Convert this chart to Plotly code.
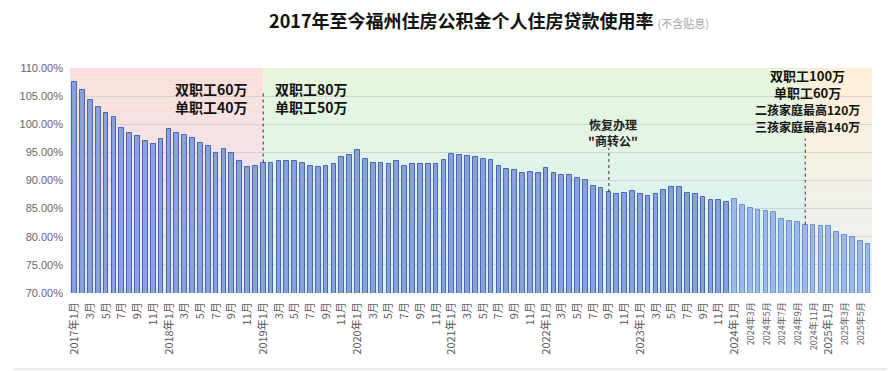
import plotly.graph_objects as go

# ---------------- data ----------------
months = []
for yr in range(2017, 2026):
    for mo in range(1, 13):
        if yr == 2025 and mo > 6:
            break
        months.append(f"{yr}年{mo}月")

rate_2017 = [107.5, 106.1, 104.3, 103.0, 102.0, 101.3, 99.3, 98.4, 97.85, 97.0, 96.45, 97.35]
rate_2018 = [99.15, 98.4, 98.05, 97.5, 96.75, 96.05, 94.85, 95.65, 94.95, 93.55, 92.35, 92.65]
rate_2019 = [93.2, 93.1, 93.4, 93.55, 93.55, 93.2, 92.5, 92.35, 92.5, 92.85, 94.1, 94.6]
rate_2020 = [95.5, 93.9, 93.2, 93.2, 93.0, 93.4, 92.65, 92.85, 92.85, 92.85, 93.0, 93.7]
rate_2021 = [94.8, 94.6, 94.3, 94.25, 93.85, 93.7, 92.5, 92.05, 91.85, 91.35, 91.5, 91.35]
rate_2022 = [92.3, 91.35, 91.0, 91.0, 90.5, 90.15, 89.05, 88.7, 87.95, 87.6, 87.8, 88.15]
rate_2023 = [87.6, 87.25, 87.6, 88.35, 88.85, 88.85, 87.8, 87.6, 87.05, 86.55, 86.55, 86.2]
rate_2024 = [86.75, 85.7, 85.2, 84.8, 84.6, 84.4, 83.2, 82.85, 82.65, 82.15, 82.15, 81.95]
rate_2025 = [81.95, 80.9, 80.35, 79.95, 79.25, 78.7]

rates = rate_2017 + rate_2018 + rate_2019 + rate_2020 + rate_2021 + rate_2022 + rate_2023 + rate_2024 + rate_2025

# tick labels: every other month
tick_idx = list(range(0, len(months), 2))
tick_labels = []
for i in tick_idx:
    yr, rest = months[i].split("年")
    if rest == "1月":
        tick_labels.append(months[i])
    elif int(yr) >= 2024:
        tick_labels.append(f'<span style="font-size:9px">{months[i]}</span>')
    else:
        tick_labels.append(rest)

policy_texts = {
    "left": "双职工60万<br>单职工40万",
    "mid": "双职工80万<br>单职工50万",
    "szg": "恢复办理<br>\"商转公\"",
    "new": "双职工100万<br>单职工60万<br><span style='font-size:12px'>二孩家庭最高120万</span><br><span style='font-size:12px'>三孩家庭最高140万</span>",
}

# ---------------- figure ----------------
x = list(range(len(months)))
i_2019 = months.index("2019年1月")
i_szg = months.index("2022年9月")
i_new = months.index("2024年10月")
x_lo, x_hi = -0.6, len(months) - 0.5
y_lo, y_hi = 70, 110

bar_fill = ["#9cb9ea" if int(m.split("年")[0]) >= 2024 else "#8aa0da" for m in months]
bar_line = ["#6d90d2" if int(m.split("年")[0]) >= 2024 else "#4a67b2" for m in months]

fig = go.Figure()
fig.add_trace(go.Bar(
    x=x, y=rates, width=0.6,
    marker=dict(color=bar_fill, line=dict(color=bar_line, width=1)),
    hovertemplate="%{customdata}: %{y:.2f}%<extra></extra>",
    customdata=months,
))

def hex2rgb(h):
    h = h.lstrip("#")
    return tuple(int(h[k:k + 2], 16) for k in (0, 2, 4))

def mix(c1, c2, t):
    a, b = hex2rgb(c1), hex2rgb(c2)
    return "rgb(%d,%d,%d)" % tuple(round(a[k] + (b[k] - a[k]) * t) for k in range(3))

regions = [
    (x_lo, i_2019, "#fcdfda", "#e0e8fb"),
    (i_2019, i_new, "#e6f6da", "#d8f0fb"),
    (i_new, x_hi, "#fdefd5", "#e8f1f5"),
]
shapes = []
n_band = 24
for (a, b, top, bot) in regions:
    for k in range(n_band):
        y0 = y_lo + (y_hi - y_lo) * k / n_band
        y1 = y_lo + (y_hi - y_lo) * (k + 1) / n_band
        t = (k + 0.5) / n_band
        shapes.append(dict(type="rect", xref="x", yref="y", x0=a, x1=b, y0=y0, y1=y1,
                           fillcolor=mix(bot, top, t), line=dict(width=0), layer="below"))

# dashed marker lines
for idx, ytop in [(i_2019, 105.8), (i_szg, 95.8), (i_new, 97.5)]:
    shapes.append(dict(type="line", xref="x", yref="y", x0=idx, x1=idx, y0=rates[idx], y1=ytop,
                       line=dict(color="#333333", width=1, dash="dot"), layer="above"))

# outer frame bottom line
shapes.append(dict(type="line", xref="paper", yref="paper", x0=-0.07, x1=1.03, y0=-0.338, y1=-0.338,
                   line=dict(color="#d4d4d4", width=1)))

font_cjk = "Noto Sans CJK SC, Liberation Sans, sans-serif"
annotations = [
    dict(x=i_2019 - 1.7, y=104.75, xref="x", yref="y", text=policy_texts["left"], showarrow=False,
         xanchor="right", yanchor="middle", align="right",
         font=dict(size=14, color="#111111", family=font_cjk, weight="bold")),
    dict(x=i_2019 + 1.3, y=104.75, xref="x", yref="y", text=policy_texts["mid"], showarrow=False,
         xanchor="left", yanchor="middle", align="left",
         font=dict(size=14, color="#111111", family=font_cjk, weight="bold")),
    dict(x=i_szg + 0.5, y=98.6, xref="x", yref="y", text=policy_texts["szg"], showarrow=False,
         xanchor="center", yanchor="middle", align="center",
         font=dict(size=12, color="#222222", family=font_cjk, weight="bold")),
    dict(x=i_new + 0.3, y=104.2, xref="x", yref="y", text=policy_texts["new"], showarrow=False,
         xanchor="center", yanchor="middle", align="center",
         font=dict(size=13, color="#111111", family=font_cjk, weight="bold")),
]

# page body has an 8px default margin, so the figure is 8px smaller and shifted
fig.update_layout(
    width=887, height=363,
    margin=dict(l=52, r=23, t=60, b=78),
    paper_bgcolor="white", plot_bgcolor="white",
    showlegend=False,
    bargap=0,
    title=dict(
        text="<b>2017年至今福州住房公积金个人住房贷款使用率</b> <span style='font-size:11px;color:#a6a6a6'>(不含贴息)</span>",
        xref="container", yref="container", x=0.5423, y=0.961, xanchor="center", yanchor="middle",
        font=dict(size=18, color="#111111", family=font_cjk),
    ),
    xaxis=dict(
        range=[x_lo, x_hi], tickmode="array", tickvals=tick_idx, ticktext=tick_labels,
        tickangle=-90, ticks="", showgrid=False, zeroline=False, showline=False,
        tickfont=dict(size=11, color="#595959", family=font_cjk),
        ticklabelstandoff=6,
    ),
    yaxis=dict(
        range=[y_lo, y_hi], dtick=5, tick0=70, tickformat=".2f", ticksuffix="%",
        showgrid=True, gridcolor="#d3d3d3", gridwidth=1, zeroline=False, showline=False, ticks="",
        tickfont=dict(size=11, color="#666666", family="Liberation Sans, Arial, sans-serif"),
        ticklabelstandoff=6,
    ),
    shapes=shapes,
    annotations=annotations,
)

fig.write_html("out.html")
